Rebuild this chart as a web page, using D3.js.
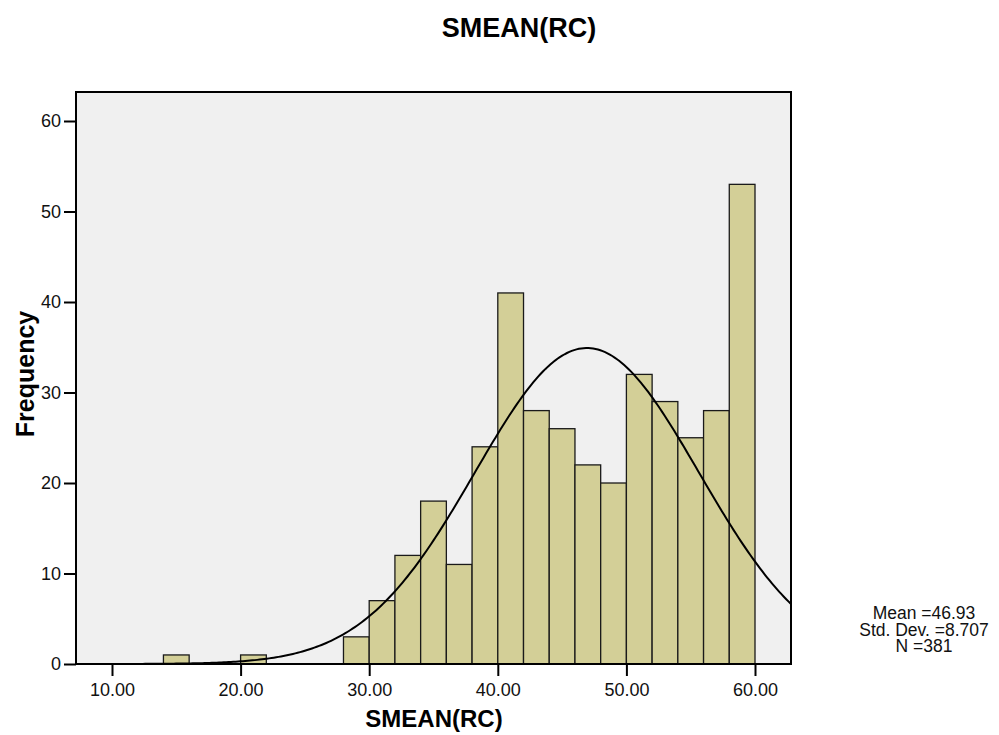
<!DOCTYPE html>
<html>
<head>
<meta charset="utf-8">
<script src="https://cdn.jsdelivr.net/npm/d3@7/dist/d3.min.js"></script>
<style>
  body { margin: 0; background: #fff; }
  text { font-family: "Liberation Sans", Arial, sans-serif; }
</style>
</head>
<body>
<div id="chart"></div>
<script>
// histogram bins (lower edge, width 2) and counts
const binStarts = [14, 20, 28, 30, 32, 34, 36, 38, 40, 42, 44, 46, 48, 50, 52, 54, 56, 58];
const counts    = [1, 1, 3, 7, 12, 18, 11, 24, 41, 28, 26, 22, 20, 32, 29, 25, 28, 53];
const binWidth = 2;
const xTicks = [10, 20, 30, 40, 50, 60];
const yTicks = [0, 10, 20, 30, 40, 50, 60];
const stats = { mean: 46.93, sd: 8.707, n: 381 };
const statLines = ["Mean =46.93", "Std. Dev. =8.707", "N =381"];

const width = 999, height = 735;
const frame = { left: 76, right: 791, top: 92, bottom: 664 };

const svg = d3.select('#chart').append('svg')
    .attr('width', width)
    .attr('height', height);

const x = d3.scaleLinear().domain([10, 60]).range([112, 755]);
const y = d3.scaleLinear().domain([0, 60]).range([664, 121]);

// plot background
svg.append('rect')
    .attr('x', frame.left).attr('y', frame.top)
    .attr('width', frame.right - frame.left)
    .attr('height', frame.bottom - frame.top)
    .attr('fill', '#f0f0f0');

svg.append('defs').append('clipPath').attr('id', 'clip')
  .append('rect')
    .attr('x', frame.left).attr('y', frame.top)
    .attr('width', frame.right - frame.left)
    .attr('height', frame.bottom - frame.top);

// bars
svg.append('g')
  .selectAll('rect')
  .data(binStarts.map((s, i) => ({ s, c: counts[i] })))
  .join('rect')
    .attr('x', d => x(d.s))
    .attr('y', d => y(d.c))
    .attr('width', d => x(d.s + binWidth) - x(d.s))
    .attr('height', d => y(0) - y(d.c))
    .attr('fill', '#d3cf97')
    .attr('stroke', '#1a1a1a')
    .attr('stroke-width', 1.3);

// normal curve scaled to counts
const xMin = x.invert(frame.left), xMax = x.invert(frame.right);
const curvePts = d3.range(0, 301).map(i => {
    const v = xMin + (xMax - xMin) * i / 300;
    const z = (v - stats.mean) / stats.sd;
    const f = stats.n * binWidth * Math.exp(-0.5 * z * z) / (stats.sd * Math.sqrt(2 * Math.PI));
    return [v, f];
});
svg.append('path')
    .datum(curvePts)
    .attr('clip-path', 'url(#clip)')
    .attr('fill', 'none')
    .attr('stroke', '#000')
    .attr('stroke-width', 2)
    .attr('d', d3.line().x(d => x(d[0])).y(d => y(d[1])));

// frame
svg.append('rect')
    .attr('x', frame.left).attr('y', frame.top)
    .attr('width', frame.right - frame.left)
    .attr('height', frame.bottom - frame.top)
    .attr('fill', 'none')
    .attr('stroke', '#000')
    .attr('stroke-width', 2);

// axes
const yAxis = svg.append('g')
    .attr('transform', `translate(${frame.left},0)`)
    .call(d3.axisLeft(y).tickValues(yTicks).tickSize(12).tickPadding(3).tickFormat(d3.format('d')));
const xAxis = svg.append('g')
    .attr('transform', `translate(0,${frame.bottom})`)
    .call(d3.axisBottom(x).tickValues(xTicks).tickSize(12).tickPadding(7).tickFormat(d3.format('.2f')));
[yAxis, xAxis].forEach(a => {
    a.select('.domain').remove();
    a.selectAll('line').attr('stroke', '#000').attr('stroke-width', 2);
    a.selectAll('text')
        .attr('fill', '#111')
        .style('font-family', '"Liberation Sans", Arial, sans-serif')
        .style('font-size', '18px');
});

// titles
svg.append('text')
    .attr('x', 519).attr('y', 37)
    .attr('text-anchor', 'middle')
    .style('font-size', '27px').style('font-weight', 'bold')
    .text('SMEAN(RC)');

svg.append('text')
    .attr('x', 434).attr('y', 727)
    .attr('text-anchor', 'middle')
    .style('font-size', '24px').style('font-weight', 'bold')
    .text('SMEAN(RC)');

svg.append('text')
    .attr('transform', 'translate(34,374) rotate(-90)')
    .attr('text-anchor', 'middle')
    .style('font-size', '25px').style('font-weight', 'bold')
    .text('Frequency');

// stats box
svg.append('g').selectAll('text')
  .data(statLines)
  .join('text')
    .attr('x', 924)
    .attr('y', (d, i) => 619 + i * 16.5)
    .attr('text-anchor', 'middle')
    .style('font-size', '17.5px')
    .attr('fill', '#111')
    .text(d => d);
</script>
</body>
</html>
